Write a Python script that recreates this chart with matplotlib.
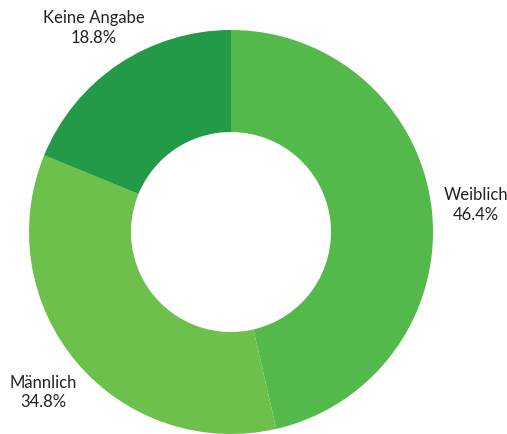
#!/usr/bin/env python3
"""Donut chart: Geschlechterverteilung."""

import matplotlib

matplotlib.use('Agg')
import matplotlib.pyplot as plt

labels = ["Weiblich", "Männlich", "Keine Angabe"]
shares = [46.4, 34.8, 18.8]
colors = ["#53b94a", "#6dc04b", "#239a48"]

W, H = 507, 435
plt.rcParams['font.family'] = ['Lato', 'DejaVu Sans']

fig = plt.figure(figsize=(W / 100, H / 100), dpi=100)
ax = fig.add_axes([0, 0, 1, 1])

wedges, texts = ax.pie(
    shares,
    labels=[f"{l}\n{v:.1f}%" for l, v in zip(labels, shares)],
    colors=colors,
    startangle=90,
    counterclock=False,
    center=(231, H - 233),
    radius=202,
    labeldistance=1.22,
    wedgeprops=dict(width=102, edgecolor="none"),
    textprops=dict(fontsize=12, color="#222222", linespacing=1.3),
)
for t in texts:
    t.set_ha("center")
    t.set_va("center")

ax.set_xlim(0, W)
ax.set_ylim(0, H)
ax.set_aspect("equal")
ax.axis("off")

fig.savefig("out.png", dpi=100)
